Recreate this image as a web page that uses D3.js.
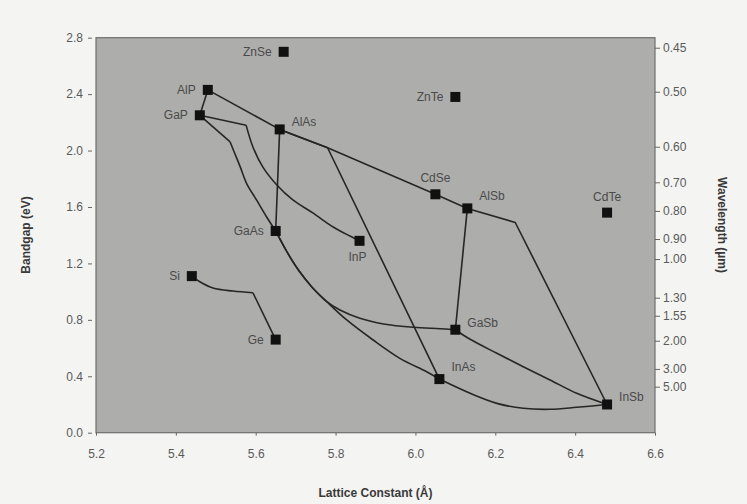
<!DOCTYPE html>
<html>
<head>
<meta charset="utf-8">
<script src="https://cdn.jsdelivr.net/npm/d3@7"></script>
<style>
  body { margin: 0; background: #f4f4f2; }
  svg { display: block; font-family: "Liberation Sans", Arial, sans-serif; }
  .axis text { fill: #5a5a5a; font-size: 12px; }
  .axis path { display: none; }
  .axis line { stroke: #666; }
  .lbl { fill: #4a4a4a; font-size: 12px; }
  .title { fill: #3a3a3a; font-size: 12px; font-weight: bold; }
</style>
</head>
<body>
<div id="chart"></div>
<script>
// compounds: name, lattice constant (A), bandgap (eV)
var names = ["ZnSe","AlP","GaP","AlAs","GaAs","InP","ZnTe","CdSe","AlSb","CdTe","Si","Ge","GaSb","InAs","InSb"];
var lattice = [5.67,5.48,5.46,5.66,5.65,5.86,6.10,6.05,6.13,6.48,5.44,5.65,6.10,6.06,6.48];
var gap = [2.70,2.43,2.25,2.15,1.43,1.36,2.38,1.69,1.59,1.56,1.11,0.66,0.73,0.38,0.20];

// where each label sits relative to its square
var labelSide = ["left","left","left","right","left","below","left","above","aboveright","above","left","left","right","aboveright","right"];

// connecting curves, as lattice / bandgap pairs
var curves = [
  [[5.48,2.43],[5.46,2.25]],
  [[5.48,2.43],[5.66,2.15]],
  [[5.66,2.15],[5.78,2.02],[6.05,1.69],[6.13,1.59]],
  [[6.13,1.59],[6.25,1.49],[6.48,0.20]],
  [[5.66,2.15],[5.78,2.02],[6.06,0.38]],
  [[5.66,2.15],[5.65,1.43]],
  [[5.46,2.25],[5.576,2.18]],
  [[5.576,2.18],[5.593,2.025],[5.618,1.883],[5.653,1.756],[5.693,1.65],[5.743,1.558],[5.794,1.458],[5.836,1.394],[5.86,1.36]],
  [[5.46,2.25],[5.536,2.061]],
  [[5.536,2.061],[5.544,2.004],[5.561,1.886],[5.577,1.768],[5.602,1.65],[5.627,1.531],[5.65,1.43]],
  [[5.65,1.43],[5.678,1.283],[5.707,1.153],[5.74,1.035],[5.778,0.929],[5.828,0.799],[5.894,0.657],[5.961,0.527],[6.028,0.432],[6.06,0.38]],
  [[5.65,1.43],[5.678,1.283],[5.707,1.153],[5.74,1.035],[5.778,0.929],[5.811,0.87],[5.861,0.811],[5.92,0.771],[5.995,0.747],[6.062,0.737],[6.10,0.73]],
  [[6.13,1.59],[6.10,0.73]],
  [[6.10,0.73],[6.137,0.662],[6.204,0.563],[6.27,0.468],[6.337,0.374],[6.404,0.279],[6.48,0.20]],
  [[6.06,0.38],[6.137,0.279],[6.204,0.208],[6.27,0.173],[6.337,0.166],[6.404,0.18],[6.48,0.20]],
  [[5.44,1.11],[5.46,1.07],[5.493,1.026],[5.543,1.004],[5.593,0.992]],
  [[5.593,0.992],[5.65,0.66]]
];

var xTicks = [5.2,5.4,5.6,5.8,6.0,6.2,6.4,6.6];
var yTicks = [0.0,0.4,0.8,1.2,1.6,2.0,2.4,2.8];
// wavelength scale on the right, placed where the figure puts it (in eV)
var waveLabels = ["0.45","0.50","0.60","0.70","0.80","0.90","1.00","1.30","1.55","2.00","3.00","5.00"];
var waveAt = [2.729,2.417,2.027,1.775,1.572,1.373,1.231,0.957,0.829,0.652,0.452,0.326];

var width = 747, height = 504;
var plot = { left: 96, right: 655, top: 37.7, bottom: 432.7 };

var svg = d3.select('#chart').append('svg')
  .attr('width', width)
  .attr('height', height);

var x = d3.scaleLinear().domain([5.2, 6.6]).range([plot.left, plot.right]);
var y = d3.scaleLinear().domain([0, 2.8]).range([plot.bottom, plot.top]);

svg.append('rect')
  .attr('x', plot.left)
  .attr('y', plot.top)
  .attr('width', plot.right - plot.left)
  .attr('height', plot.bottom - plot.top)
  .attr('fill', '#adadab')
  .attr('stroke', '#6e6e6e')
  .attr('stroke-width', 1.2);

svg.append('g')
  .attr('class', 'axis')
  .attr('transform', 'translate(0,' + plot.bottom + ')')
  .call(d3.axisBottom(x).tickValues(xTicks).tickFormat(d3.format('.1f')).tickSize(3).tickPadding(14));

svg.append('g')
  .attr('class', 'axis')
  .attr('transform', 'translate(' + (plot.left - 4) + ',0)')
  .call(d3.axisLeft(y).tickValues(yTicks).tickFormat(d3.format('.1f')).tickSize(4).tickPadding(5));

svg.append('g')
  .attr('class', 'axis')
  .attr('transform', 'translate(' + plot.right + ',0)')
  .call(d3.axisRight(y).tickValues(waveAt)
    .tickFormat(function(d, i) { return waveLabels[i]; })
    .tickSize(5).tickPadding(3));

// short polylines stay straight, the longer traced ones are smoothed
var straight = d3.line()
  .x(function(d) { return x(d[0]); })
  .y(function(d) { return y(d[1]); });
var smooth = d3.line()
  .x(function(d) { return x(d[0]); })
  .y(function(d) { return y(d[1]); })
  .curve(d3.curveCatmullRom.alpha(0.5));

svg.append('g').selectAll('path')
  .data(curves)
  .enter().append('path')
  .attr('d', function(d) { return d.length > 4 ? smooth(d) : straight(d); })
  .attr('fill', 'none')
  .attr('stroke', '#262626')
  .attr('stroke-width', 1.6)
  .attr('stroke-linejoin', 'round');

var pts = names.map(function(n, i) { return { name: n, a: lattice[i], e: gap[i], side: labelSide[i] }; });

svg.append('g').selectAll('rect')
  .data(pts)
  .enter().append('rect')
  .attr('x', function(d) { return x(d.a) - 5; })
  .attr('y', function(d) { return y(d.e) - 5; })
  .attr('width', 10)
  .attr('height', 10)
  .attr('fill', '#111');

var offs = {
  left: [-12, 4, 'end'],
  right: [12, -3, 'start'],
  above: [0, -12, 'middle'],
  below: [-2, 20, 'middle'],
  aboveright: [12, -8, 'start']
};

svg.append('g').selectAll('text')
  .data(pts)
  .enter().append('text')
  .attr('class', 'lbl')
  .attr('x', function(d) { return x(d.a) + offs[d.side][0]; })
  .attr('y', function(d) { return y(d.e) + offs[d.side][1]; })
  .attr('text-anchor', function(d) { return offs[d.side][2]; })
  .text(function(d) { return d.name; });

svg.append('text')
  .attr('class', 'title')
  .attr('x', (plot.left + plot.right) / 2)
  .attr('y', 497)
  .attr('text-anchor', 'middle')
  .text('Lattice Constant (Å)');

svg.append('text')
  .attr('class', 'title')
  .attr('transform', 'translate(30,235) rotate(-90)')
  .attr('text-anchor', 'middle')
  .text('Bandgap (eV)');

svg.append('text')
  .attr('class', 'title')
  .attr('transform', 'translate(718,225) rotate(90)')
  .attr('text-anchor', 'middle')
  .text('Wavelength (µm)');
</script>
</body>
</html>
